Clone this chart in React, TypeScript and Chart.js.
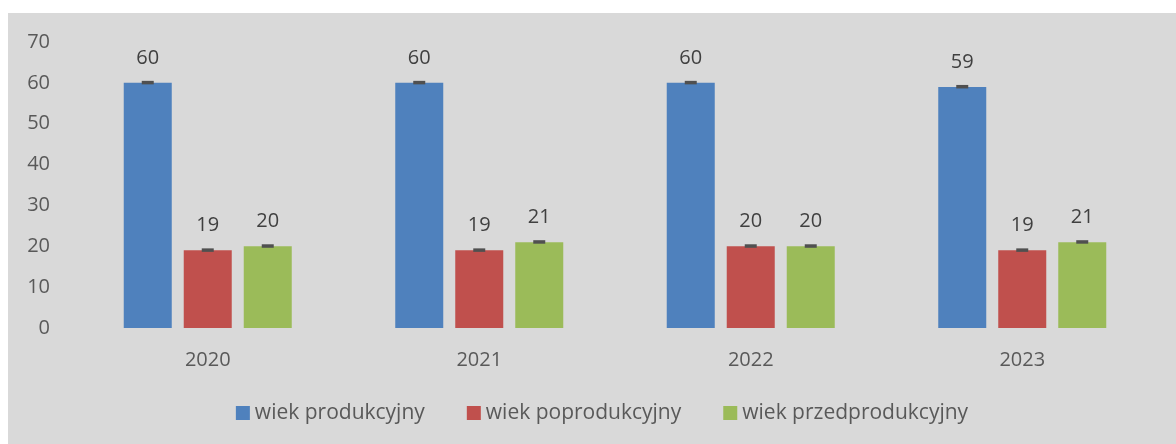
import React, { useEffect, useRef } from "react";
import { Chart, registerables } from "chart.js";

Chart.register(...registerables);

const categories = ["2020", "2021", "2022", "2023"];
const seriesNames = ["wiek produkcyjny", "wiek poprodukcyjny", "wiek przedprodukcyjny"];
const produkcyjny = [60, 60, 60, 59];
const poprodukcyjny = [19, 19, 20, 19];
const przedprodukcyjny = [20, 21, 20, 21];
const seriesColors = ["#4f81bd", "#c0504d", "#9bbb59"];
const yTicks = [0, 10, 20, 30, 40, 50, 60, 70];

const FONT = "'Open Sans', sans-serif";

const labelsAndCapsPlugin = {
  id: "labelsAndCaps",
  afterDatasetsDraw(chart: any) {
    const ctx = chart.ctx;
    ctx.save();
    chart.data.datasets.forEach((ds: any, di: number) => {
      const meta = chart.getDatasetMeta(di);
      meta.data.forEach((el: any, i: number) => {
        const v = ds.data[i];
        // error-bar cap
        ctx.fillStyle = "#505050";
        ctx.fillRect(el.x - 6, el.y - 2, 12, 3.5);
        // value label
        ctx.fillStyle = "#404040";
        ctx.font = `20px ${FONT}`;
        ctx.textAlign = "center";
        ctx.textBaseline = "middle";
        ctx.fillText(String(v), el.x, el.y - 25);
      });
    });
    ctx.restore();
  },
};

const legendPlugin = {
  id: "customLegend",
  afterDraw(chart: any) {
    const ctx = chart.ctx;
    ctx.save();
    ctx.font = `21px ${FONT}`;
    ctx.textBaseline = "middle";
    ctx.textAlign = "left";
    const box = 14;
    const boxGap = 5;
    const itemGap = 42;
    const items = chart.data.datasets.map((ds: any) => ({
      label: ds.label,
      color: ds.backgroundColor,
      w: ctx.measureText(ds.label).width,
    }));
    const total =
      items.reduce((s: number, it: any) => s + box + boxGap + it.w, 0) +
      itemGap * (items.length - 1);
    let x = (chart.width - total) / 2 + 10;
    const y = chart.height - 31;
    items.forEach((it: any) => {
      ctx.fillStyle = it.color;
      ctx.fillRect(x, y - box / 2, box, box);
      x += box + boxGap;
      ctx.fillStyle = "#595959";
      ctx.fillText(it.label, x, y);
      x += it.w + itemGap;
    });
    ctx.restore();
  },
};

export default function App() {
  const ref = useRef<HTMLCanvasElement>(null);
  useEffect(() => {
    if (!ref.current) return;
    const values = [produkcyjny, poprodukcyjny, przedprodukcyjny];
    const chart = new Chart(ref.current, {
      type: "bar",
      data: {
        labels: categories,
        datasets: seriesNames.map((name, i) => ({
          label: name,
          data: values[i],
          backgroundColor: seriesColors[i],
          borderWidth: 0,
          categoryPercentage: 0.663,
          barPercentage: 0.8,
        })),
      },
      options: {
        responsive: false,
        animation: false,
        layout: { padding: { top: 29, right: 18, bottom: 76, left: 0 } },
        plugins: { legend: { display: false }, tooltip: { enabled: false } },
        scales: {
          x: {
            grid: { display: false, drawTicks: false },
            border: { display: false },
            ticks: { color: "#595959", font: { family: FONT, size: 20 }, padding: 20 },
            afterFit: (s: any) => {
              s.height = 40;
              s.paddingLeft = 0;
              s.paddingRight = 0;
            },
          },
          y: {
            min: 0,
            max: 70,
            afterBuildTicks: (s: any) => {
              s.ticks = yTicks.map((v) => ({ value: v }));
            },
            grid: { display: false, drawTicks: false },
            border: { display: false },
            ticks: { color: "#595959", font: { family: FONT, size: 20 }, padding: 22 },
            afterFit: (s: any) => {
              s.width = 64;
              s.paddingTop = 0;
              s.paddingBottom = 0;
            },
          },
        },
      },
      plugins: [labelsAndCapsPlugin, legendPlugin],
    });
    return () => chart.destroy();
  }, []);
  return (
    <div
      style={{
        position: "absolute",
        left: 8,
        top: 13,
        width: 1168,
        height: 431,
        background: "#d9d9d9",
      }}
    >
      <canvas ref={ref} width={1168} height={431} style={{ display: "block" }} />
    </div>
  );
}
